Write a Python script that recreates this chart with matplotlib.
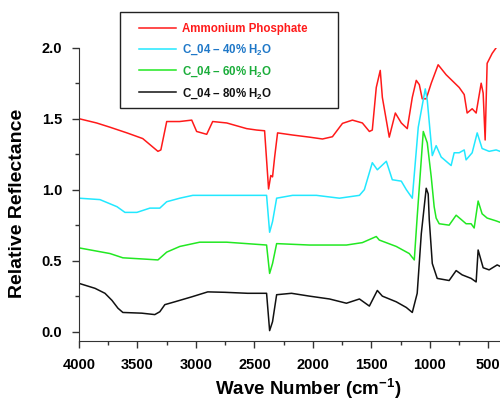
import numpy as np
import matplotlib
matplotlib.use('Agg')
import matplotlib.pyplot as plt
from matplotlib.ticker import MultipleLocator
from matplotlib.patches import Rectangle

plt.rcParams['font.family'] = ['Liberation Sans', 'DejaVu Sans']
plt.rcParams['font.weight'] = 'bold'
plt.rcParams['mathtext.fontset'] = 'custom'
plt.rcParams['mathtext.rm'] = 'Liberation Sans:bold'
plt.rcParams['mathtext.bf'] = 'Liberation Sans:bold'
plt.rcParams['mathtext.default'] = 'bf'

# Ammonium Phosphate
wn_ap = [4000, 3850, 3735, 3590, 3455, 3325, 3300, 3250, 3140, 3036, 2994, 2908, 2857,
         2737, 2566, 2480, 2413, 2379, 2360, 2345, 2327, 2302, 2174, 2029, 1918, 1833,
         1747, 1662, 1577, 1517, 1492, 1458, 1424, 1406, 1347, 1295, 1244, 1193, 1150,
         1116, 1090, 1065, 1031, 988, 929, 861, 749, 706, 681, 638, 604, 561, 544, 527,
         510, 467, 424, 400]
r_ap = [1.50, 1.47, 1.44, 1.40, 1.36, 1.27, 1.28, 1.48, 1.48, 1.49, 1.41, 1.39, 1.48,
        1.47, 1.43, 1.42, 1.415, 1.005, 1.10, 1.09, 1.23, 1.40, 1.385, 1.37, 1.357, 1.373,
        1.467, 1.49, 1.47, 1.41, 1.42, 1.72, 1.84, 1.65, 1.37, 1.54, 1.47, 1.43, 1.65,
        1.77, 1.74, 1.64, 1.64, 1.75, 1.88, 1.81, 1.72, 1.67, 1.54, 1.57, 1.54, 1.75, 1.68,
        1.35, 1.89, 1.96, 2.01, 2.02]

# C_04 - 40% H2O
wn_40 = [4000, 3821, 3675, 3607, 3505, 3394, 3309, 3250, 3138, 3027, 2737, 2396, 2370,
         2345, 2310, 2174, 1970, 1773, 1602, 1560, 1492, 1449, 1372, 1321, 1244, 1201,
         1150, 1099, 1039, 1022, 979, 946, 903, 818, 792, 749, 706, 690, 638, 595, 553,
         493, 433, 400]
r_40 = [0.94, 0.93, 0.88, 0.84, 0.84, 0.87, 0.87, 0.915, 0.94, 0.96, 0.96, 0.96, 0.70,
        0.775, 0.94, 0.96, 0.96, 0.94, 0.96, 1.00, 1.19, 1.14, 1.20, 1.07, 1.06, 1.00,
        0.94, 1.44, 1.71, 1.63, 1.24, 1.31, 1.23, 1.17, 1.26, 1.26, 1.28, 1.21, 1.26, 1.40,
        1.29, 1.27, 1.28, 1.27]

# C_04 - 60% H2O
wn_60 = [4000, 3735, 3625, 3420, 3325, 3250, 3138, 2968, 2737, 2396, 2370, 2345, 2310,
         2029, 1713, 1577, 1458, 1432, 1287, 1176, 1133, 1108, 1056, 1022, 988, 963, 946,
         920, 835, 775, 732, 690, 647, 621, 587, 553, 510, 433, 400]
r_60 = [0.59, 0.55, 0.52, 0.51, 0.505, 0.56, 0.60, 0.63, 0.63, 0.61, 0.41, 0.48, 0.62,
        0.61, 0.61, 0.627, 0.67, 0.645, 0.60, 0.55, 0.505, 0.81, 1.41, 1.33, 1.09, 0.88,
        0.80, 0.76, 0.75, 0.82, 0.79, 0.76, 0.76, 0.73, 0.92, 0.83, 0.80, 0.78, 0.77]

# C_04 - 80% H2O
wn_80 = [4000, 3863, 3778, 3718, 3667, 3625, 3463, 3352, 3309, 3266, 3181, 3036, 2899,
         2754, 2558, 2396, 2370, 2345, 2310, 2183, 2029, 1858, 1713, 1602, 1517, 1449,
         1406, 1287, 1201, 1150, 1108, 1073, 1031, 1014, 1005, 979, 937, 835, 775, 724,
         647, 604, 587, 544, 493, 424, 400]
r_80 = [0.34, 0.305, 0.27, 0.22, 0.165, 0.135, 0.13, 0.12, 0.14, 0.19, 0.21, 0.245, 0.28,
        0.277, 0.27, 0.27, 0.007, 0.07, 0.26, 0.27, 0.25, 0.23, 0.20, 0.23, 0.18, 0.29,
        0.25, 0.21, 0.17, 0.135, 0.27, 0.69, 1.01, 0.97, 0.79, 0.48, 0.375, 0.36, 0.43,
        0.40, 0.375, 0.35, 0.575, 0.45, 0.435, 0.47, 0.46]

labels = ['Ammonium Phosphate', 'C_04 – 40% H$_2$O', 'C_04 – 60% H$_2$O', 'C_04 – 80% H$_2$O']
line_colors = ['#ff1a1a', '#22e8ff', '#22e822', '#111111']
text_colors = ['#ff1a1a', '#1f78c8', '#1aad3a', '#111111']

fig = plt.figure(figsize=(5.0, 4.01), dpi=100)
ax = fig.add_axes([0.158, 0.150, 0.842, 0.731])

ax.plot(wn_ap, r_ap, color=line_colors[0], lw=1.1, label=labels[0])
ax.plot(wn_40, r_40, color=line_colors[1], lw=1.1, label=labels[1])
ax.plot(wn_60, r_60, color=line_colors[2], lw=1.1, label=labels[2])
ax.plot(wn_80, r_80, color=line_colors[3], lw=1.1, label=labels[3])

ax.set_xlim(4000, 400)
ax.set_ylim(-0.065, 2.0)
ax.xaxis.set_major_locator(MultipleLocator(500))
ax.xaxis.set_minor_locator(MultipleLocator(250))
ax.yaxis.set_major_locator(MultipleLocator(0.5))
ax.yaxis.set_minor_locator(MultipleLocator(0.25))
ax.yaxis.set_major_formatter(plt.FormatStrFormatter('%.1f'))
ax.tick_params(which='both', direction='out', labelsize=10.5, width=1, color='#333333')
ax.tick_params(which='major', length=5, pad=7)
ax.tick_params(which='minor', length=3)
ax.spines['top'].set_visible(False)
ax.spines['right'].set_visible(False)
for s in ['left', 'bottom']:
    ax.spines[s].set_color('#333333')

ax.set_xlabel('Wave Number (cm$^{-1}$)', fontsize=13.5, fontweight='bold')
ax.xaxis.set_label_coords(0.544, -0.122)
ax.set_ylabel('Relative Reflectance', fontsize=14, fontweight='bold')
ax.yaxis.set_label_coords(-0.126, 0.47)

# legend box drawn by hand, entries placed inside
fig.patches.append(Rectangle((120 / 500, 1 - 108 / 401), 218 / 500, 96 / 401,
                             transform=fig.transFigure, fill=False,
                             edgecolor='#222222', lw=1.0))
leg = ax.legend(loc='upper left', bbox_to_anchor=(0.278, 0.943), bbox_transform=fig.transFigure,
                frameon=False, fontsize=8.3, borderpad=0, borderaxespad=0,
                handlelength=3.2, labelspacing=0.65, handletextpad=0.55,
                labelcolor=text_colors)

fig.savefig('out.png', dpi=100)
